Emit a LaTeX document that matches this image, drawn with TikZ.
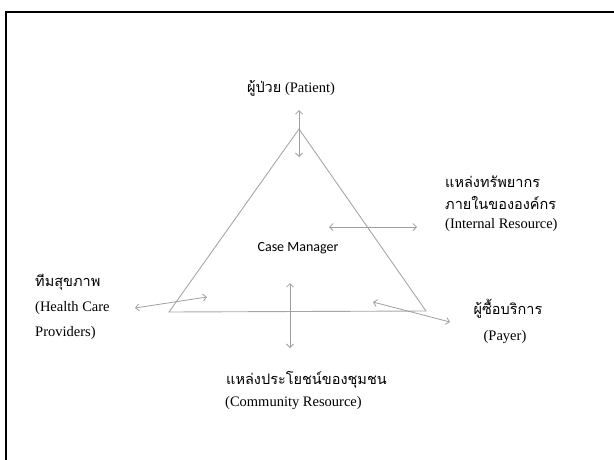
\documentclass[tikz,border=0pt]{standalone}
\usepackage{fontspec}
\usetikzlibrary{arrows.meta}
\setmainfont{Liberation Serif}
\newfontfamily\thaifont[Script=Thai]{Loma}
\newfontfamily\calibrifont{Carlito}
\newcommand{\thai}[1]{{\thaifont #1}}

\begin{document}
\begin{tikzpicture}[x=1pt,y=-1pt]
\tikzstyle{label}=[inner sep=0pt, font=\fontsize{14.5}{17}\selectfont]
\tikzstyle{link}=[{Straight Barb[length=3.5pt,width=7pt]}-{Straight Barb[length=3.5pt,width=7pt]}, draw=gray!75, line width=0.8pt]
\tikzstyle{edge}=[draw=gray!70, line width=0.9pt]
\useasboundingbox (0,0) rectangle (614,459);
% frame
\draw[line width=2.5pt] (6,460) -- (6,12) -- (615,12);
% triangle
\coordinate (top) at (299,129);
\coordinate (left) at (169,312);
\coordinate (right) at (426,311);
\draw[edge] (top) -- (left) -- (right) -- cycle;
% labels
\node[label] (patient) at (291,88) {\thai{ผู้ป่วย} (Patient)};
\node[label, font=\calibrifont\fontsize{14}{16}\selectfont] (cm) at (298,248) {Case Manager};
\node[label, anchor=west] (int1) at (445,182) {\thai{แหล่งทรัพยากร}};
\node[label, anchor=west] (int2) at (445,203) {\thai{ภายในขององค์กร}};
\node[label, anchor=west] (int3) at (445,225) {(Internal Resource)};
\node[label, anchor=west] (hc1) at (35,282) {\thai{ทีมสุขภาพ}};
\node[label, anchor=west] (hc2) at (35,308) {(Health Care};
\node[label, anchor=west] (hc3) at (35,333) {Providers)};
\node[label] (pay1) at (508,309) {\thai{ผู้ซื้อบริการ}};
\node[label] (pay2) at (505,337) {(Payer)};
\node[label, anchor=west] (com1) at (226,380) {\thai{แหล่งประโยชน์ของชุมชน}};
\node[label, anchor=west] (com2) at (225,403) {(Community Resource)};
% arrows
\coordinate (p1) at (299,110);
\coordinate (p2) at (299,157);
\coordinate (i1) at (329,227);
\coordinate (i2) at (417,227);
\coordinate (h1) at (135,308);
\coordinate (h2) at (207,297);
\coordinate (c1) at (290,283);
\coordinate (c2) at (290,348);
\coordinate (y1) at (373,302);
\coordinate (y2) at (450,322);
\draw[link] (p1) -- (p2);
\draw[link] (i1) -- (i2);
\draw[link] (h1) -- (h2);
\draw[link] (c1) -- (c2);
\draw[link] (y1) -- (y2);
\end{tikzpicture}
\end{document}
